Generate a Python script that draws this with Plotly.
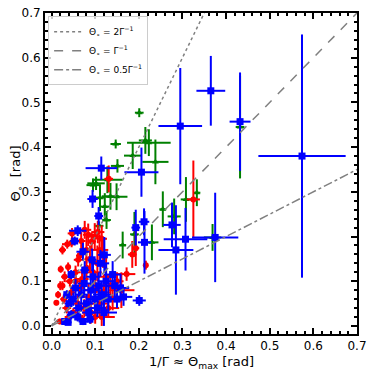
import plotly.graph_objects as go

# red sample (circles)
red_x = [0.036, 0.047, 0.064, 0.021, 0.011, 0.019, 0.076, 0.084, 0.099, 0.092, 0.106, 0.115,
         0.046, 0.038, 0.061, 0.030, 0.025, 0.042, 0.055, 0.070, 0.080, 0.088, 0.095, 0.105,
         0.118, 0.125, 0.135, 0.140, 0.150, 0.160, 0.172, 0.193, 0.216, 0.131, 0.325, 0.185,
         0.015, 0.028, 0.035, 0.045, 0.050, 0.060, 0.065, 0.075, 0.085, 0.090, 0.100, 0.110,
         0.115, 0.120, 0.130, 0.100, 0.070, 0.040, 0.055, 0.080, 0.068, 0.110, 0.025, 0.020]
red_y = [0.183, 0.207, 0.157, 0.127, 0.052, 0.010, 0.215, 0.204, 0.200, 0.189, 0.210, 0.195,
         0.186, 0.132, 0.148, 0.110, 0.090, 0.100, 0.120, 0.105, 0.130, 0.150, 0.120, 0.140,
         0.160, 0.110, 0.090, 0.060, 0.100, 0.080, 0.116, 0.174, 0.136, 0.329, 0.283, 0.160,
         0.070, 0.060, 0.040, 0.075, 0.030, 0.050, 0.085, 0.040, 0.065, 0.030, 0.080, 0.050,
         0.020, 0.075, 0.040, 0.020, 0.015, 0.020, 0.100, 0.170, 0.190, 0.170, 0.170, 0.090]
red_xerr = [0.012, 0.010, 0.008, 0.006, 0.004, 0.008, 0.015, 0.012, 0.018, 0.010, 0.015, 0.012,
            0.008, 0.006, 0.010, 0.008, 0.006, 0.010, 0.012, 0.015, 0.010, 0.012, 0.020, 0.015,
            0.010, 0.020, 0.020, 0.025, 0.015, 0.030, 0.020, 0.008, 0.005, 0.010, 0.015, 0.010,
            0.005, 0.008, 0.010, 0.010, 0.012, 0.015, 0.010, 0.020, 0.015, 0.020, 0.025, 0.020,
            0.030, 0.015, 0.025, 0.010, 0.015, 0.010, 0.012, 0.015, 0.010, 0.020, 0.008, 0.006]
red_yerr = [0.010, 0.012, 0.010, 0.008, 0.006, 0.006, 0.020, 0.025, 0.030, 0.020, 0.025, 0.030,
            0.010, 0.010, 0.015, 0.012, 0.010, 0.012, 0.015, 0.020, 0.025, 0.030, 0.030, 0.040,
            0.030, 0.050, 0.030, 0.025, 0.020, 0.040, 0.015, 0.040, 0.010, 0.030, 0.087, 0.030,
            0.008, 0.010, 0.012, 0.015, 0.010, 0.020, 0.020, 0.020, 0.030, 0.025, 0.035, 0.030,
            0.020, 0.040, 0.020, 0.015, 0.010, 0.010, 0.020, 0.030, 0.020, 0.035, 0.010, 0.010]

# green sample (triangles)
green_x = [0.201, 0.147, 0.223, 0.215, 0.238, 0.186, 0.151, 0.102, 0.128, 0.111, 0.149, 0.122,
           0.126, 0.109, 0.255, 0.281, 0.308, 0.333, 0.432, 0.369, 0.230, 0.190, 0.163, 0.095,
           0.135]
green_y = [0.477, 0.407, 0.410, 0.415, 0.367, 0.381, 0.358, 0.319, 0.327, 0.287, 0.289, 0.267,
           0.237, 0.224, 0.261, 0.245, 0.283, 0.298, 0.445, 0.198, 0.187, 0.205, 0.181, 0.315,
           0.290]
green_xerr = [0.010, 0.012, 0.050, 0.015, 0.030, 0.020, 0.015, 0.020, 0.035, 0.010, 0.025, 0.010,
              0.010, 0.010, 0.008, 0.015, 0.012, 0.008, 0.010, 0.020, 0.015, 0.010, 0.008, 0.015,
              0.020]
green_yerr = [0.010, 0.010, 0.030, 0.030, 0.050, 0.030, 0.015, 0.015, 0.030, 0.030, 0.030, 0.030,
              0.020, 0.010, 0.040, 0.040, 0.050, 0.030, 0.115, 0.030, 0.040, 0.050, 0.030, 0.015,
              0.030]

# blue sample (squares)
blue_x = [0.574, 0.365, 0.432, 0.295, 0.206, 0.114, 0.094, 0.108, 0.212, 0.213, 0.193, 0.276,
          0.285, 0.307, 0.375, 0.201, 0.060, 0.053, 0.072, 0.093, 0.076, 0.045, 0.035, 0.040,
          0.030, 0.038, 0.045, 0.050, 0.055, 0.062, 0.068, 0.075, 0.080, 0.085, 0.090, 0.095,
          0.100, 0.105, 0.108, 0.112, 0.115, 0.120, 0.125, 0.130, 0.121, 0.140, 0.145, 0.150,
          0.158, 0.165, 0.072, 0.088, 0.060]
blue_y = [0.380, 0.526, 0.457, 0.447, 0.344, 0.353, 0.284, 0.246, 0.233, 0.187, 0.220, 0.226,
          0.170, 0.194, 0.198, 0.057, 0.213, 0.190, 0.166, 0.148, 0.125, 0.115, 0.070, 0.050,
          0.010, 0.008, 0.025, 0.060, 0.085, 0.040, 0.070, 0.095, 0.050, 0.030, 0.080, 0.110,
          0.060, 0.040, 0.090, 0.140, 0.070, 0.030, 0.100, 0.060, 0.159, 0.115, 0.090, 0.060,
          0.085, 0.065, 0.010, 0.015, 0.020]
blue_xerr = [0.100, 0.033, 0.024, 0.050, 0.039, 0.036, 0.012, 0.010, 0.012, 0.015, 0.010, 0.020,
             0.040, 0.050, 0.053, 0.015, 0.020, 0.010, 0.015, 0.010, 0.010, 0.008, 0.008, 0.010,
             0.006, 0.008, 0.010, 0.010, 0.012, 0.012, 0.015, 0.015, 0.015, 0.015, 0.020, 0.015,
             0.020, 0.020, 0.015, 0.020, 0.020, 0.030, 0.020, 0.020, 0.015, 0.020, 0.020, 0.020,
             0.020, 0.020, 0.010, 0.010, 0.008]
blue_yerr = [0.272, 0.078, 0.110, 0.130, 0.055, 0.026, 0.020, 0.020, 0.030, 0.070, 0.040, 0.050,
             0.100, 0.070, 0.100, 0.012, 0.012, 0.010, 0.020, 0.025, 0.020, 0.010, 0.010, 0.012,
             0.006, 0.006, 0.010, 0.015, 0.020, 0.015, 0.020, 0.025, 0.020, 0.015, 0.030, 0.030,
             0.025, 0.020, 0.030, 0.030, 0.030, 0.030, 0.040, 0.030, 0.040, 0.030, 0.030, 0.020,
             0.030, 0.020, 0.008, 0.010, 0.010]

# reference relations  theta = k / Gamma
ref_x = [0.0, 0.7]
ref_k = [2.0, 1.0, 0.5]
ref_names = ["Θ<sub>∘</sub> = 2Γ<sup>−1</sup>", "Θ<sub>∘</sub> = Γ<sup>−1</sup>",
             "Θ<sub>∘</sub> = 0.5Γ<sup>−1</sup>"]
ref_dash = ["dot", "dash", "dashdot"]

fig = go.Figure()


def add_group(x, y, xe, ye, color, symbol, size):
    fig.add_trace(go.Scatter(
        x=x, y=y, mode="markers", showlegend=False,
        marker=dict(color=color, symbol=symbol, size=size),
        error_x=dict(type="data", array=xe, color=color, thickness=2, width=0),
        error_y=dict(type="data", array=ye, color=color, thickness=2, width=0),
    ))


add_group(green_x, green_y, green_xerr, green_yerr, "green", "triangle-up", 6)
add_group(red_x, red_y, red_xerr, red_yerr, "red", "circle", 6)
add_group(blue_x, blue_y, blue_xerr, blue_yerr, "blue", "square", 7)

for k, name, dash in zip(ref_k, ref_names, ref_dash):
    fig.add_trace(go.Scatter(
        x=ref_x, y=[k * v for v in ref_x], mode="lines", name=name,
        line=dict(color="gray", dash=dash, width=1.5),
    ))

axis_style = dict(
    showline=True, linecolor="black", linewidth=2, mirror="allticks",
    ticks="inside", ticklen=6, tickwidth=1.5, tickcolor="black",
    showgrid=False, zeroline=False, dtick=0.1, tickformat=".1f", automargin=False,
    ticklabeloverflow="allow", tickfont=dict(size=12, color="black"),
    minor=dict(ticks="inside", ticklen=3, tickcolor="black", dtick=0.02, showgrid=False),
)

fig.update_xaxes(range=[-0.015, 0.7], **axis_style)
fig.update_yaxes(range=[-0.018, 0.7], **axis_style)

# axis titles placed by hand so they sit where the reference has them
fig.add_annotation(text="1/Γ ≈ Θ<sub>max</sub> [rad]", xref="paper", yref="paper",
                   x=0.5, y=-0.09, xanchor="center", yanchor="middle",
                   showarrow=False, font=dict(size=13))
fig.add_annotation(text="Θ<sub>∘</sub>  [rad]", xref="paper", yref="paper",
                   x=-0.09, y=0.5, xanchor="center", yanchor="middle", textangle=-90,
                   showarrow=False, font=dict(size=13))

fig.update_layout(
    width=374, height=374,
    margin=dict(l=45, r=17, t=13, b=40),
    plot_bgcolor="white", paper_bgcolor="white",
    font=dict(family="DejaVu Sans", color="black"),
    legend=dict(x=0.01, y=0.99, xanchor="left", yanchor="top",
                bgcolor="rgba(255,255,255,0.8)", bordercolor="#cccccc", borderwidth=1,
                font=dict(size=9), tracegroupgap=0),
)

# drop the browser's default page margin so the figure sits at the corner
fig.write_html("out.html", config={"displayModeBar": False},
               post_script="document.body.style.margin = '0px';")
